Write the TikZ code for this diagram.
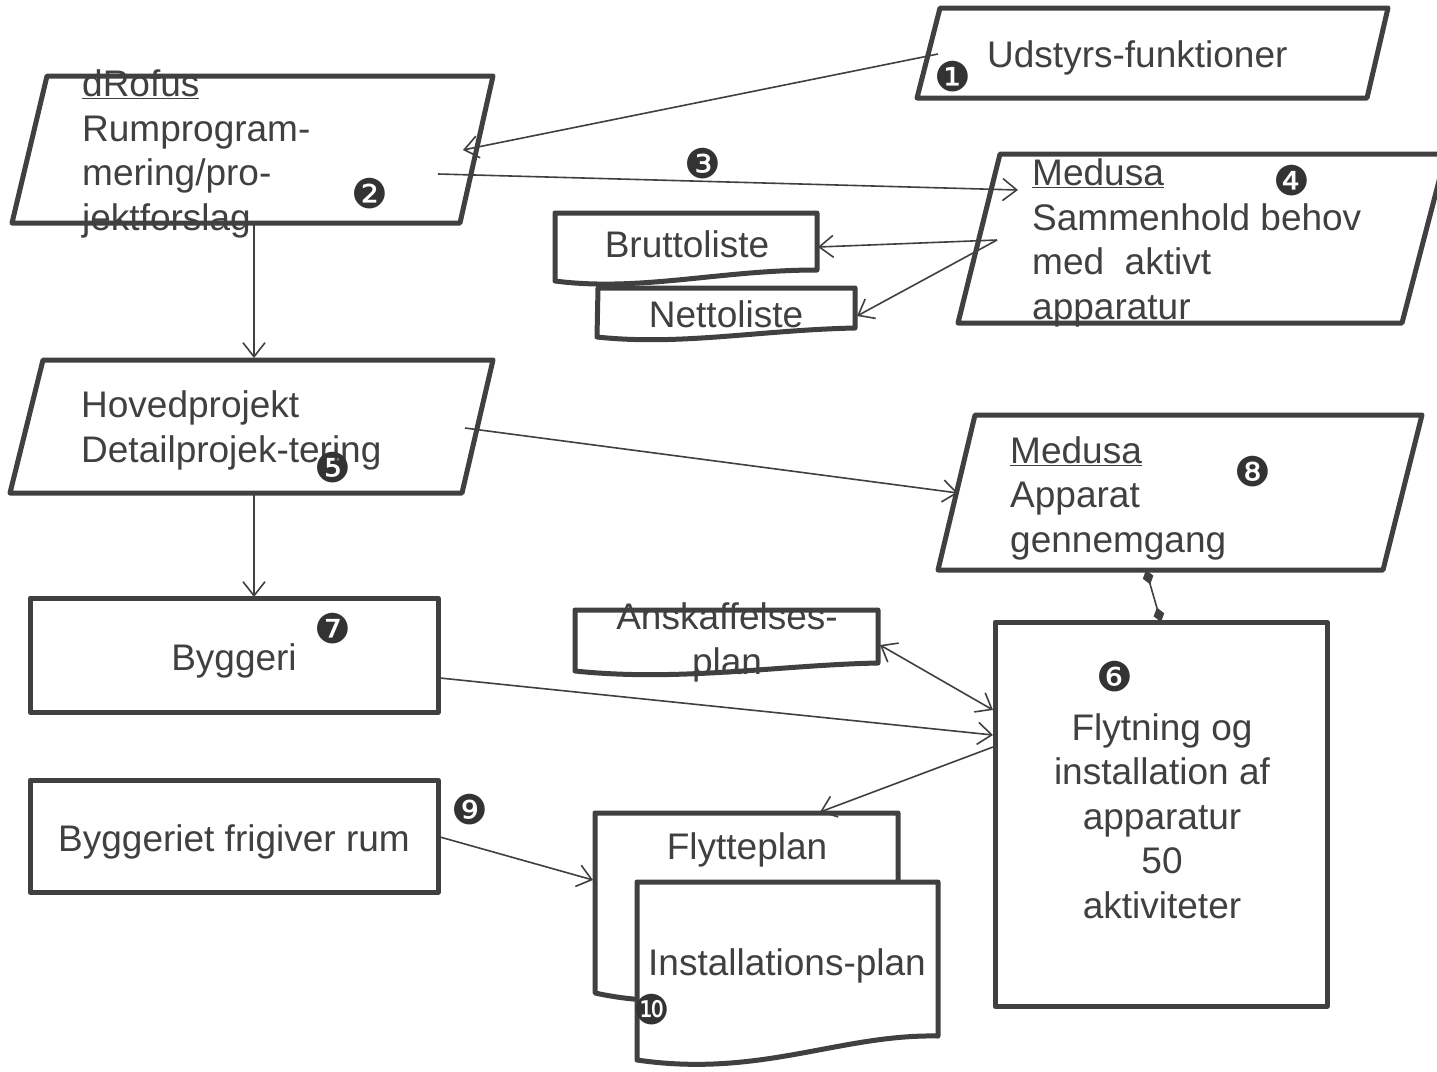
\documentclass[tikz,border=0pt]{standalone}
\usepackage{fontspec}
\setmainfont{Liberation Sans}
\newfontfamily\dingfont{DejaVu Sans}
\usetikzlibrary{arrows.meta}
\definecolor{lc}{HTML}{404040}
\definecolor{nc}{HTML}{333333}
\tikzset{
  box/.style={draw=lc, line width=5pt, line join=round},
  txt/.style={text=lc, inner sep=0pt, font=\fontsize{37}{44.5}\selectfont},
  num/.style={text=nc, inner sep=0pt, font=\dingfont\fontsize{41}{41}\selectfont},
  conn/.style={draw=lc, line width=1.6pt, -{Straight Barb[length=14pt,width=22pt]}},
  conn2/.style={draw=lc, line width=1.6pt, {Straight Barb[length=14pt,width=22pt]}-{Straight Barb[length=14pt,width=22pt]}},
  dconn/.style={draw=lc, line width=1.6pt, {Diamond[length=15pt,width=11pt]}-{Diamond[length=15pt,width=11pt]}},
}
\begin{document}
\begin{tikzpicture}[x=1pt,y=-1pt]
\useasboundingbox (0,0) rectangle (1437,1071);
\clip (0,0) rectangle (1437,1071);
\fill[white] (0,0) rectangle (1437,1071);

% ---- shapes ----
% 1 Udstyrs-funktioner
\draw[box] (940,8) -- (1388,8) -- (1367,98) -- (917,98) -- cycle;
% 2 dRofus
\draw[box] (47,76) -- (493,76) -- (460,223) -- (12,223) -- cycle;
% 4 Medusa
\draw[box] (1000,154) -- (1446,154) -- (1402,323) -- (958,323) -- cycle;
% Bruttoliste
\draw[box] (555,213) -- (817,213) -- (817,270) .. controls (720,270) and (640,292) .. (555,281) -- cycle;
% Nettoliste
\draw[box] (598,288) -- (855,288) -- (855,328) .. controls (760,330) and (680,346) .. (597,337) -- cycle;
% Hovedprojekt
\draw[box] (43,360) -- (493,360) -- (462,493) -- (10,493) -- cycle;
% Medusa 8
\draw[box] (975,415) -- (1422,415) -- (1383,570) -- (938,570) -- cycle;
% Byggeri
\draw[box] (30,598) rectangle (438,712);
% Byggeriet frigiver rum
\draw[box] (30,780) rectangle (438,892);
% Anskaffelses-plan
\draw[box] (575,610) -- (878,610) -- (878,663) .. controls (780,665) and (680,682) .. (575,671) -- cycle;
% Flytning
\draw[box] (995,622) rectangle (1327,1006);
% Flytteplan
\draw[box] (595,813) -- (898,813) -- (898,968) .. controls (800,966) and (720,1020) .. (595,993) -- cycle;
% Installations-plan
\draw[box, fill=white] (637,882) -- (938,882) -- (938,1036) .. controls (840,1034) and (760,1078) .. (637,1060) -- cycle;

% ---- texts (base = baseline of last line) ----
\node[txt, anchor=base west] (t1) at (987,67) {Udstyrs-funktioner};
\node[txt, anchor=base west, align=left] (t2) at (82,230) {\underline{dRofus}\\Rumprogram-\\mering/pro-\\jektforslag};
\node[txt, anchor=base west, align=left] (t4) at (1032,319) {\underline{Medusa}\\Sammenhold behov\\med\ \ aktivt\\apparatur};
\node[txt, anchor=base] (tb) at (687,257) {Bruttoliste};
\node[txt, anchor=base] (tn) at (726,327) {Nettoliste};
\node[txt, anchor=base west, align=left] (t5) at (81,462) {Hovedprojekt\\Detailprojek-tering};
\node[txt, anchor=base west, align=left] (t8) at (1010,552) {\underline{Medusa}\\Apparat\\gennemgang};
\node[txt, anchor=base] (t7) at (234,670) {Byggeri};
\node[txt, anchor=base] (t9) at (234,851) {Byggeriet frigiver rum};
\node[txt, anchor=base, align=center] (ta) at (727,674) {Anskaffelses-\\plan};
\node[txt, anchor=base, align=center] (t6) at (1162,918) {Flytning og\\installation af\\apparatur\\50\\aktiviteter};
\node[txt, anchor=base] (tf) at (747,859) {Flytteplan};
\node[txt, anchor=base] (ti) at (787,975) {Installations-plan};

% ---- numbers ----
\node[num] (n1) at (953,77) {❶};
\node[num] (n2) at (370,194) {❷};
\node[num] (n3) at (703,164) {❸};
\node[num] (n4) at (1292,181) {❹};
\node[num] (n5) at (333,468) {❺};
\node[num] (n6) at (1115,677) {❻};
\node[num] (n7) at (333,629) {❼};
\node[num] (n8) at (1253,472) {❽};
\node[num] (n9) at (470,810) {❾};
\node[num] (n10) at (652,1010) {❿};

% ---- connector ends ----
\coordinate (udst-w) at (938,54);
\coordinate (drof-in) at (463,150);
\coordinate (drof-out) at (438,174);
\coordinate (med4-in) at (1018,190);
\coordinate (med4-out) at (997,240);
\coordinate (brut-e) at (818,247);
\coordinate (nett-e) at (857,316);
\coordinate (drof-s) at (254,224);
\coordinate (hov-n) at (254,358);
\coordinate (hov-e) at (465,428);
\coordinate (med8-w) at (958,493);
\coordinate (hov-s) at (254,493);
\coordinate (byg-n) at (254,597);
\coordinate (med8-s) at (1146,570);
\coordinate (flyt-n) at (1161,622);
\coordinate (byg-e) at (440,678);
\coordinate (flyt-w1) at (993,735);
\coordinate (ansk-e) at (880,645);
\coordinate (flyt-w0) at (993,710);
\coordinate (flyt-w2) at (993,747);
\coordinate (flp-n) at (820,812);
\coordinate (fri-e) at (440,837);
\coordinate (flp-w) at (593,880);

% ---- connectors ----
\draw[conn] (udst-w) -- (drof-in);
\draw[conn] (drof-out) -- (med4-in);
\draw[conn] (med4-out) -- (brut-e);
\draw[conn] (med4-out) -- (nett-e);
\draw[conn] (drof-s) -- (hov-n);
\draw[conn] (hov-e) -- (med8-w);
\draw[conn] (hov-s) -- (byg-n);
\draw[dconn] (med8-s) -- (flyt-n);
\draw[conn] (byg-e) -- (flyt-w1);
\draw[conn2] (ansk-e) -- (flyt-w0);
\draw[conn] (flyt-w2) -- (flp-n);
\draw[conn] (fri-e) -- (flp-w);
\end{tikzpicture}
\end{document}
